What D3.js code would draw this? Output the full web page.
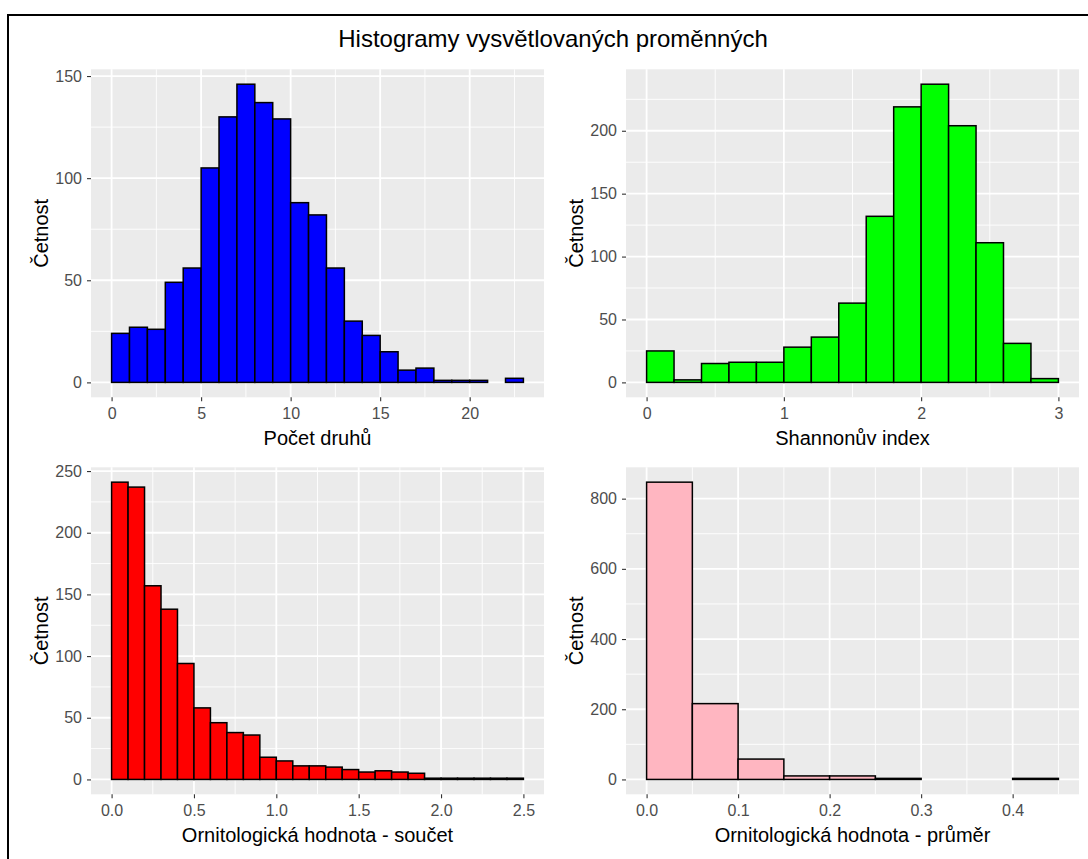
<!DOCTYPE html>
<html>
<head>
<meta charset="utf-8">
<script src="https://cdn.jsdelivr.net/npm/d3@7"></script>
<style>
  html, body { margin: 0; padding: 0; background: #ffffff; }
  svg { display: block; }
  text { font-family: "Liberation Sans", Arial, Helvetica, sans-serif; }
</style>
</head>
<body>
<svg id="chart" width="1088" height="859"></svg>
<script>
// ---------- DATA ----------
const chartTitle = "Histogramy vysvětlovaných proměnných";
const yLabel = "Četnost";

// Panel 1: Počet druhů (bin width 1, from 0)
const druhyLabel = "Počet druhů";
const druhyBinStart = 0, druhyBinWidth = 1;
const druhyCounts = [24, 27, 26, 49, 56, 105, 130, 146, 137, 129, 88, 82, 56, 30, 23, 15, 6, 7, 1, 1, 1, 0, 2];
const druhyXTicks = [0, 5, 10, 15, 20];
const druhyYTicks = [0, 50, 100, 150];

// Panel 2: Shannonův index (bin width 0.2, from 0)
const shannonLabel = "Shannonův index";
const shannonBinStart = 0, shannonBinWidth = 0.2;
const shannonCounts = [25, 2, 15, 16, 16, 28, 36, 63, 132, 219, 237, 204, 111, 31, 3];
const shannonXTicks = [0, 1, 2, 3];
const shannonYTicks = [0, 50, 100, 150, 200];

// Panel 3: Ornitologická hodnota - součet (bin width 0.1, from 0)
const soucetLabel = "Ornitologická hodnota - součet";
const soucetBinStart = 0, soucetBinWidth = 0.1;
const soucetCounts = [241, 237, 157, 138, 94, 58, 46, 38, 36, 18, 15, 11, 11, 10, 8, 6, 7, 6, 5, 1, 1, 1, 1, 1, 1];
const soucetXTicks = [0, 0.5, 1, 1.5, 2, 2.5];
const soucetYTicks = [0, 50, 100, 150, 200, 250];

// Panel 4: Ornitologická hodnota - průměr (bin width 0.05, from 0)
const prumerLabel = "Ornitologická hodnota - průměr";
const prumerBinStart = 0, prumerBinWidth = 0.05;
const prumerCounts = [847, 216, 58, 10, 10, 3, 0, 0, 3];
const prumerXTicks = [0, 0.1, 0.2, 0.3, 0.4];
const prumerYTicks = [0, 200, 400, 600, 800];

// ---------- DRAW ----------
const svg = d3.select("#chart");

// outer frame
svg.append("rect")
  .attr("x", 8).attr("y", 15)
  .attr("width", 1200).attr("height", 1000)
  .attr("fill", "#ffffff")
  .attr("stroke", "#000000").attr("stroke-width", 2);

svg.append("text")
  .attr("x", 553).attr("y", 47)
  .attr("text-anchor", "middle")
  .attr("font-size", 24)
  .attr("fill", "#000000")
  .text(chartTitle);

function panel(opts) {
  const { left, top, width, height, counts, binStart, binWidth, xTicks, yTicks, xFormat, fill, xLabel } = opts;
  const n = counts.length;
  const xMin = binStart, xMax = binStart + n * binWidth;
  const xPad = (xMax - xMin) * 0.05;
  const yMax = d3.max(counts);
  const yPad = yMax * 0.05;

  const x = d3.scaleLinear().domain([xMin - xPad, xMax + xPad]).range([left, left + width]);
  const y = d3.scaleLinear().domain([-yPad, yMax + yPad]).range([top + height, top]);

  const g = svg.append("g");
  g.append("rect")
    .attr("x", left).attr("y", top).attr("width", width).attr("height", height)
    .attr("fill", "#EBEBEB");

  // minor grid
  const xStep = xTicks[1] - xTicks[0];
  const yStep = yTicks[1] - yTicks[0];
  const xMinor = [];
  for (let i = 0; i < xTicks.length; i++) {
    const m = xTicks[i] + xStep / 2;
    if (m <= x.domain()[1]) xMinor.push(m);
  }
  if (xTicks[0] - xStep / 2 >= x.domain()[0]) xMinor.unshift(xTicks[0] - xStep / 2);
  const yMinor = [];
  for (let i = 0; i < yTicks.length; i++) {
    const m = yTicks[i] + yStep / 2;
    if (m <= y.domain()[1]) yMinor.push(m);
  }

  g.selectAll(".xminor").data(xMinor).enter().append("line")
    .attr("x1", d => x(d)).attr("x2", d => x(d))
    .attr("y1", top).attr("y2", top + height)
    .attr("stroke", "#ffffff").attr("stroke-width", 0.9);
  g.selectAll(".yminor").data(yMinor).enter().append("line")
    .attr("x1", left).attr("x2", left + width)
    .attr("y1", d => y(d)).attr("y2", d => y(d))
    .attr("stroke", "#ffffff").attr("stroke-width", 0.9);
  g.selectAll(".xmajor").data(xTicks).enter().append("line")
    .attr("x1", d => x(d)).attr("x2", d => x(d))
    .attr("y1", top).attr("y2", top + height)
    .attr("stroke", "#ffffff").attr("stroke-width", 1.8);
  g.selectAll(".ymajor").data(yTicks).enter().append("line")
    .attr("x1", left).attr("x2", left + width)
    .attr("y1", d => y(d)).attr("y2", d => y(d))
    .attr("stroke", "#ffffff").attr("stroke-width", 1.8);

  // bars
  g.selectAll(".bar").data(counts).enter().append("rect")
    .attr("x", (d, i) => x(binStart + i * binWidth))
    .attr("width", (d, i) => x(binStart + (i + 1) * binWidth) - x(binStart + i * binWidth))
    .attr("y", d => y(d))
    .attr("height", d => y(0) - y(d))
    .attr("fill", fill)
    .attr("stroke", "#000000").attr("stroke-width", 1.5);

  // axes
  const xAxis = d3.axisBottom(x).tickValues(xTicks).tickSize(4).tickPadding(6)
    .tickFormat(xFormat || d3.format("d"));
  const ax = g.append("g").attr("transform", `translate(0,${top + height})`).call(xAxis);
  ax.select(".domain").remove();
  ax.selectAll("line").attr("stroke", "#333333").attr("stroke-width", 1.1);
  ax.selectAll("text").attr("font-size", 16).attr("fill", "#4D4D4D")
    .attr("font-family", "Liberation Sans, Arial, sans-serif");

  const yAxis = d3.axisLeft(y).tickValues(yTicks).tickSize(4).tickPadding(5)
    .tickFormat(d3.format("d"));
  const ay = g.append("g").attr("transform", `translate(${left},0)`).call(yAxis);
  ay.select(".domain").remove();
  ay.selectAll("line").attr("stroke", "#333333").attr("stroke-width", 1.1);
  ay.selectAll("text").attr("font-size", 16).attr("fill", "#4D4D4D")
    .attr("font-family", "Liberation Sans, Arial, sans-serif");

  // axis titles
  g.append("text")
    .attr("x", left + width / 2).attr("y", top + height + 48)
    .attr("text-anchor", "middle").attr("font-size", 20).attr("fill", "#000000")
    .text(xLabel);
  g.append("text")
    .attr("transform", `translate(${left - 43},${top + height / 2}) rotate(-90)`)
    .attr("text-anchor", "middle").attr("font-size", 20).attr("fill", "#000000")
    .text(yLabel);
}

const f1 = d3.format(".1f");
panel({ left: 91, top: 69.3, width: 453, height: 328, counts: druhyCounts, binStart: druhyBinStart, binWidth: druhyBinWidth,
  xTicks: druhyXTicks, yTicks: druhyYTicks, fill: "#0000FF", xLabel: druhyLabel });
panel({ left: 626, top: 69.3, width: 453, height: 328, counts: shannonCounts, binStart: shannonBinStart, binWidth: shannonBinWidth,
  xTicks: shannonXTicks, yTicks: shannonYTicks, fill: "#00FF00", xLabel: shannonLabel });
panel({ left: 91, top: 467.3, width: 453, height: 327, counts: soucetCounts, binStart: soucetBinStart, binWidth: soucetBinWidth,
  xTicks: soucetXTicks, yTicks: soucetYTicks, xFormat: f1, fill: "#FF0000", xLabel: soucetLabel });
panel({ left: 626, top: 467.3, width: 453, height: 327, counts: prumerCounts, binStart: prumerBinStart, binWidth: prumerBinWidth,
  xTicks: prumerXTicks, yTicks: prumerYTicks, xFormat: f1, fill: "#FFB6C1", xLabel: prumerLabel });
</script>
</body>
</html>
